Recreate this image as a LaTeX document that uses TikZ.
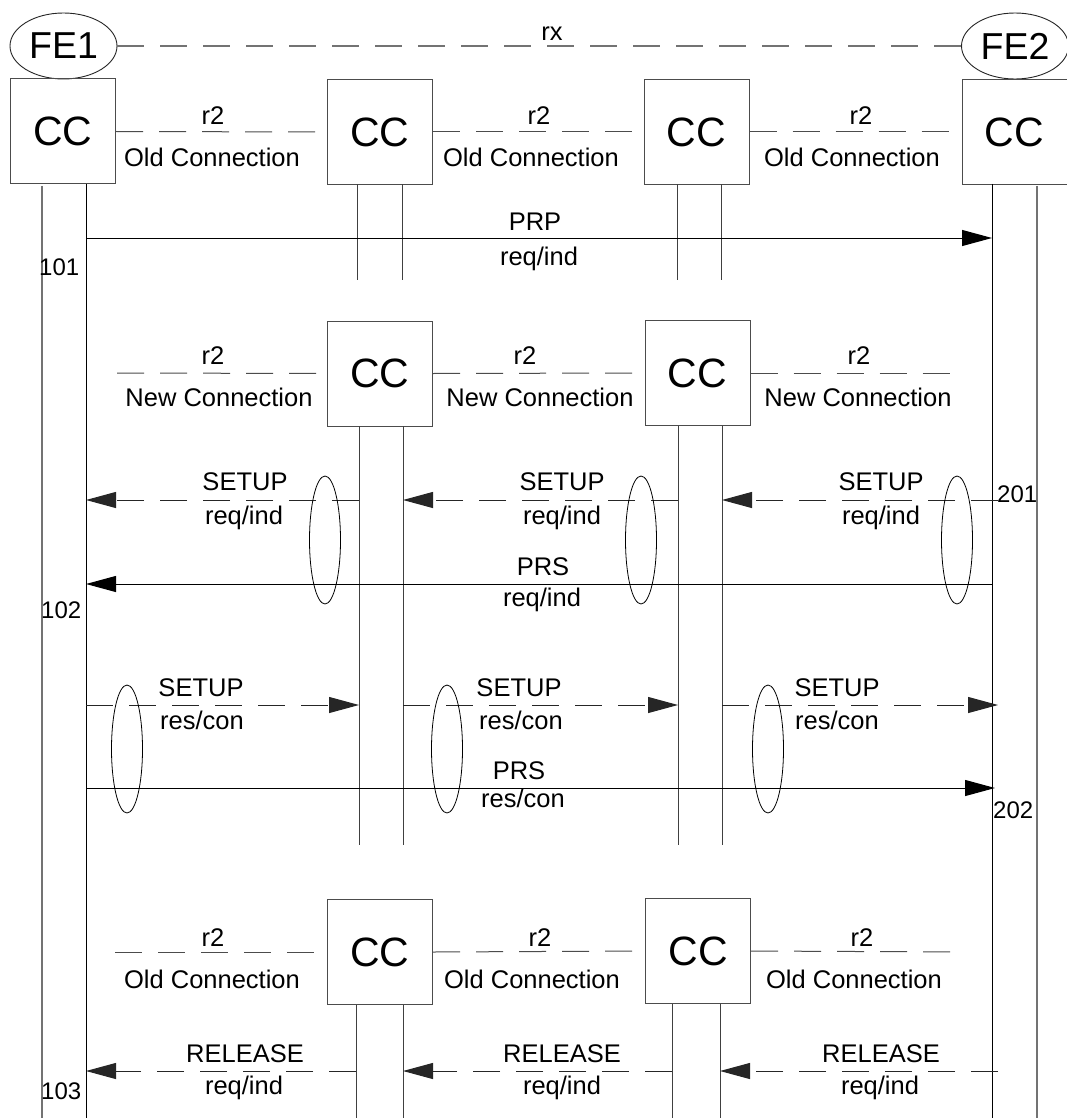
\documentclass[tikz,border=0pt]{standalone}
\usepackage{fontspec}
\setmainfont{Liberation Sans}
\usetikzlibrary{arrows.meta,shapes.geometric}
\begin{document}
\begin{tikzpicture}[x=1pt,y=-1pt,
  ccbox/.style={draw=black!70,line width=1pt,minimum width=105pt,minimum height=105pt,inner sep=0pt,font=\fontsize{41}{41}\selectfont},
  feoval/.style={ellipse,draw=black!85,line width=0.9pt,minimum width=107pt,minimum height=66pt,inner sep=0pt,font=\fontsize{37.5}{37.5}\selectfont},
  outerlife/.style={draw=black!55,line width=1.3pt},
  felife/.style={draw=black,line width=1pt},
  midlife/.style={draw=black!75,line width=1pt},
  conn/.style={draw=black!70,line width=1pt,dash pattern=on 27pt off 16pt},
  rxline/.style={draw=black!55,line width=1.2pt,dash pattern=on 27pt off 16pt},
  msg/.style={draw=black,line width=1pt,-{Triangle[length=30pt,width=16pt]}},
  dmsg/.style={msg,draw=black!85,dash pattern=on 27pt off 16pt},
  grp/.style={ellipse,draw=black,line width=0.8pt,minimum width=31pt,minimum height=128pt,inner sep=0pt},
  lbl/.style={inner sep=0pt,anchor=base,font=\fontsize{25.5}{25.5}\selectfont},
  num/.style={inner sep=0pt,anchor=base west,font=\fontsize{24}{24}\selectfont}]
\useasboundingbox (0,0) rectangle (1067,1118);
\fill[white] (0,0) rectangle (1067,1118);

% functional entities
\node[feoval] (fe1) at (63.5,46) {FE1};
\node[feoval] (fe2) at (1015,46) {FE2};
\draw[rxline] (fe1.east) -- (fe2.west);
\node[lbl] (rx) at (552,41) {rx};

% CC boxes
\node[ccbox] (a1) at (63,131.5) {CC};
\node[ccbox] (a2) at (380,132) {CC};
\node[ccbox] (a3) at (696.5,132) {CC};
\node[ccbox] (a4) at (1014.5,132) {CC};
\node[ccbox] (b2) at (380,373.5) {CC};
\node[ccbox] (b3) at (697.5,373) {CC};
\node[ccbox] (c2) at (380,952) {CC};
\node[ccbox] (c3) at (698,951) {CC};

% lifeline coordinates
\coordinate (bot) at (0,1118);
\coordinate (p1) at (42,186);
\coordinate (q1) at (86,184);
\coordinate (q4) at (992,184);
\coordinate (p4) at (1037,186);
\coordinate (a2l) at (357,184.5);
\coordinate (a2r) at (402,184.5);
\coordinate (a3l) at (677,184.5);
\coordinate (a3r) at (721,184.5);
\coordinate (a23e) at (0,280);
\coordinate (b2l) at (359,426);
\coordinate (b2r) at (403,426);
\coordinate (b3l) at (678,425.5);
\coordinate (b3r) at (722,425.5);
\coordinate (b23e) at (0,845);
\coordinate (c2l) at (356,1004.5);
\coordinate (c2r) at (403,1004.5);
\coordinate (c3l) at (672,1003.5);
\coordinate (c3r) at (720,1003.5);

\draw[outerlife] (p1) -- (p1 |- bot);
\draw[felife] (q1) -- (q1 |- bot);
\draw[felife] (q4) -- (q4 |- bot);
\draw[outerlife] (p4) -- (p4 |- bot);
\foreach \c in {a2l,a2r,a3l,a3r}{\draw[midlife] (\c) -- (\c |- a23e);}
\foreach \c in {b2l,b2r,b3l,b3r}{\draw[midlife] (\c) -- (\c |- b23e);}
\foreach \c in {c2l,c2r,c3l,c3r}{\draw[midlife] (\c) -- (\c |- bot);}

% row 1: old connection
\draw[conn] (a1.east) -- (a2.west);
\draw[conn] (a2.east) -- (a3.west);
\draw[conn] (a3.east) -- (a4.west);
\node[lbl] (r2a) at (213,125) {r2};
\node[lbl] (r2b) at (539,125) {r2};
\node[lbl] (r2c) at (861,125) {r2};
\node[lbl] (oca) at (212,167) {Old Connection};
\node[lbl] (ocb) at (531,167) {Old Connection};
\node[lbl] (occ) at (852,167) {Old Connection};

% PRP
\coordinate (yprp) at (0,238);
\draw[msg] (q1 |- yprp) -- (q4 |- yprp);
\node[lbl] (prp) at (535,230) {PRP};
\node[lbl] (prpri) at (539,265) {req/ind};
\node[num] (n101) at (39,275) {101};

% row 2: new connection
\coordinate (ncl) at (117,373);
\coordinate (ncr) at (964,373);
\draw[conn] (ncl) -- (b2.west);
\draw[conn] (b2.east) -- (b3.west);
\draw[conn] (b3.east) -- (ncr);
\node[lbl] (r2d) at (213,364) {r2};
\node[lbl] (r2e) at (525,364) {r2};
\node[lbl] (r2f) at (859,364) {r2};
\node[lbl] (nca) at (219,406) {New Connection};
\node[lbl] (ncb) at (540,406) {New Connection};
\node[lbl] (ncc) at (858,406) {New Connection};

% SETUP req/ind
\coordinate (ysri) at (0,500);
\coordinate (s201) at (998,500);
\draw[dmsg] (b2l |- ysri) -- (q1 |- ysri);
\draw[dmsg] (b3l |- ysri) -- (b2r |- ysri);
\draw[dmsg] (s201) -- (b3r |- ysri);
\node[lbl] (su1) at (245,490) {SETUP};
\node[lbl] (su2) at (562,490) {SETUP};
\node[lbl] (su3) at (881,490) {SETUP};
\node[lbl] (ri1) at (244,524) {req/ind};
\node[lbl] (ri2) at (562,524) {req/ind};
\node[lbl] (ri3) at (881,524) {req/ind};
\node[num] (n201) at (997,502) {201};

% PRS req/ind
\coordinate (yprs) at (0,584);
\draw[msg] (q4 |- yprs) -- (q1 |- yprs);
\node[lbl] (prs1) at (543,575) {PRS};
\node[lbl] (prsri) at (542,606) {req/ind};
\node[num] (n102) at (41,618) {102};

\node[grp] (g1) at (325,540) {};
\node[grp] (g2) at (641,540) {};
\node[grp] (g3) at (957,540) {};

% SETUP res/con
\coordinate (ysrc) at (0,705);
\coordinate (e202) at (998,705);
\draw[dmsg] (q1 |- ysrc) -- (b2l |- ysrc);
\draw[dmsg] (b2r |- ysrc) -- (b3l |- ysrc);
\draw[dmsg] (b3r |- ysrc) -- (e202);
\node[lbl] (su4) at (201,696) {SETUP};
\node[lbl] (su5) at (519,696) {SETUP};
\node[lbl] (su6) at (837,696) {SETUP};
\node[lbl] (rc1) at (202,729) {res/con};
\node[lbl] (rc2) at (521,729) {res/con};
\node[lbl] (rc3) at (837,729) {res/con};

% PRS res/con
\coordinate (yprc) at (0,788);
\coordinate (f202) at (995,788);
\draw[msg] (q1 |- yprc) -- (f202);
\node[lbl] (prs2) at (519,779) {PRS};
\node[lbl] (prsrc) at (523,807) {res/con};
\node[num] (n202) at (993,818) {202};

\node[grp] (g4) at (127,749) {};
\node[grp] (g5) at (447,749) {};
\node[grp] (g6) at (768,749) {};

% row 3: old connection
\coordinate (ocl) at (115,952);
\coordinate (ocr) at (964,952);
\draw[conn] (ocl) -- (c2.west);
\draw[conn] (c2.east) -- (c3.west);
\draw[conn] (c3.east) -- (ocr);
\node[lbl] (r2g) at (213,946) {r2};
\node[lbl] (r2h) at (540,946) {r2};
\node[lbl] (r2i) at (862,946) {r2};
\node[lbl] (ocd) at (212,988) {Old Connection};
\node[lbl] (oce) at (532,988) {Old Connection};
\node[lbl] (ocf) at (854,988) {Old Connection};

% RELEASE
\coordinate (yrel) at (0,1071);
\coordinate (rstart) at (998,1071);
\draw[dmsg] (c2l |- yrel) -- (q1 |- yrel);
\draw[dmsg] (c3l |- yrel) -- (c2r |- yrel);
\draw[dmsg] (rstart) -- (c3r |- yrel);
\node[lbl] (rl1) at (245,1062) {RELEASE};
\node[lbl] (rl2) at (562,1062) {RELEASE};
\node[lbl] (rl3) at (881,1062) {RELEASE};
\node[lbl] (ri4) at (244,1094) {req/ind};
\node[lbl] (ri5) at (562,1094) {req/ind};
\node[lbl] (ri6) at (880,1094) {req/ind};
\node[num] (n103) at (41,1099) {103};
\end{tikzpicture}
\end{document}
